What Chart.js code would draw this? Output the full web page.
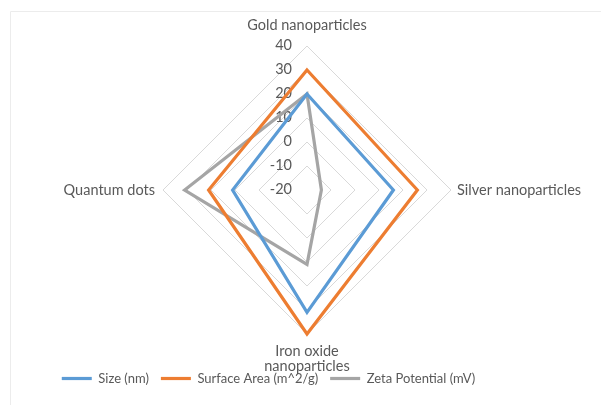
<!DOCTYPE html>
<html>
<head>
<meta charset="utf-8">
<script src="https://cdn.jsdelivr.net/npm/chart.js@4/dist/chart.umd.min.js"></script>
<style>
  html, body { margin: 0; padding: 0; background: #ffffff; }
  canvas { display: block; }
</style>
</head>
<body>
<canvas id="c" width="601" height="405"></canvas>
<script>
// ---- data ----
const categories = ['Gold nanoparticles', 'Silver nanoparticles', ['Iron oxide', 'nanoparticles'], 'Quantum dots'];
const sizeNm = [20, 16, 31, 11];
const surfaceArea = [30, 26, 40, 21];
const zetaPotential = [20, -14, 11, 31];
const seriesNames = ['Size (nm)', 'Surface Area (m^2/g)', 'Zeta Potential (mV)'];
const tickMin = -20;
const tickMax = 40;
const tickStep = 10;

// ---- styling ----
const FONT = 'Lato, "Open Sans", sans-serif';
const TEXT = '#595959';
const COLORS = ['#5B9BD5', '#ED7D31', '#A5A5A5'];
const CENTER_X = 307, CENTER_Y = 190, RADIUS = 144;

const excelPlugin = {
  id: 'excelLook',
  beforeDraw(chart) {
    const ctx = chart.ctx;
    ctx.save();
    ctx.strokeStyle = '#ececec';
    ctx.lineWidth = 1;
    ctx.beginPath();
    ctx.moveTo(10.5, 405); ctx.lineTo(10.5, 11.5); ctx.lineTo(601, 11.5);
    ctx.stroke();
    ctx.restore();
  },
  beforeDatasetsDraw(chart) {
    const s = chart.scales.r, ctx = chart.ctx;
    ctx.save();
    ctx.font = '14.5px ' + FONT;
    ctx.fillStyle = TEXT;
    ctx.textAlign = 'right';
    ctx.textBaseline = 'middle';
    s.ticks.forEach(t => {
      const p = s.getPointPositionForValue(0, t.value);
      ctx.fillText(String(t.value), s.xCenter - 15, p.y - 1);
    });
    ctx.restore();
  },
  afterDraw(chart) {
    const s = chart.scales.r, ctx = chart.ctx;
    ctx.save();
    ctx.font = '14.5px ' + FONT;
    ctx.fillStyle = TEXT;
    categories.forEach((lab, i) => {
      const lines = Array.isArray(lab) ? lab : [lab];
      const ang = s.getIndexAngle(i) - Math.PI / 2;
      const c = Math.cos(ang), sn = Math.sin(ang);
      let pad, align, base;
      if (Math.abs(c) < 0.01) {
        align = 'center';
        if (sn < 0) { pad = 13; base = 'bottom'; } else { pad = 10; base = 'top'; }
      } else if (c > 0) { pad = 6; align = 'left'; base = 'middle'; }
      else { pad = 8; align = 'right'; base = 'middle'; }
      const p = s.getPointPosition(i, s.drawingArea + pad);
      ctx.textAlign = align;
      ctx.textBaseline = base;
      const lh = 15.5;
      lines.forEach((ln, k) => {
        let y = p.y;
        if (base === 'top') y = p.y + k * lh;
        else if (base === 'bottom') y = p.y - (lines.length - 1 - k) * lh;
        else y = p.y + (k - (lines.length - 1) / 2) * lh;
        ctx.fillText(ln, p.x, y);
      });
    });
    ctx.restore();
  }
};

const seriesValues = [sizeNm, surfaceArea, zetaPotential];

new Chart(document.getElementById('c'), {
  type: 'radar',
  data: {
    labels: categories,
    datasets: seriesValues.map((vals, i) => ({
      label: seriesNames[i],
      data: vals,
      borderColor: COLORS[i],
      backgroundColor: COLORS[i],
      borderWidth: 3.2,
      fill: false,
      pointRadius: 0,
      pointHoverRadius: 0,
      tension: 0
    }))
  },
  options: {
    responsive: false,
    animation: false,
    devicePixelRatio: 1,
    layout: { padding: { top: 40, left: 0, right: 64, bottom: 10 } },
    plugins: {
      legend: {
        position: 'bottom',
        labels: {
          usePointStyle: true,
          pointStyle: 'line',
          pointStyleWidth: 30,
          padding: 12,
          color: TEXT,
          font: { family: FONT, size: 13 }
        }
      },
      tooltip: { enabled: false }
    },
    scales: {
      r: {
        min: tickMin,
        max: tickMax,
        ticks: { stepSize: tickStep, display: false },
        pointLabels: { display: false },
        angleLines: { display: false },
        grid: { color: '#d9d9d9', lineWidth: 1 },
        afterFit(scale) {
          scale.xCenter = CENTER_X;
          scale.yCenter = CENTER_Y;
          scale.drawingArea = RADIUS;
        }
      }
    }
  },
  plugins: [excelPlugin]
});
</script>
</body>
</html>
